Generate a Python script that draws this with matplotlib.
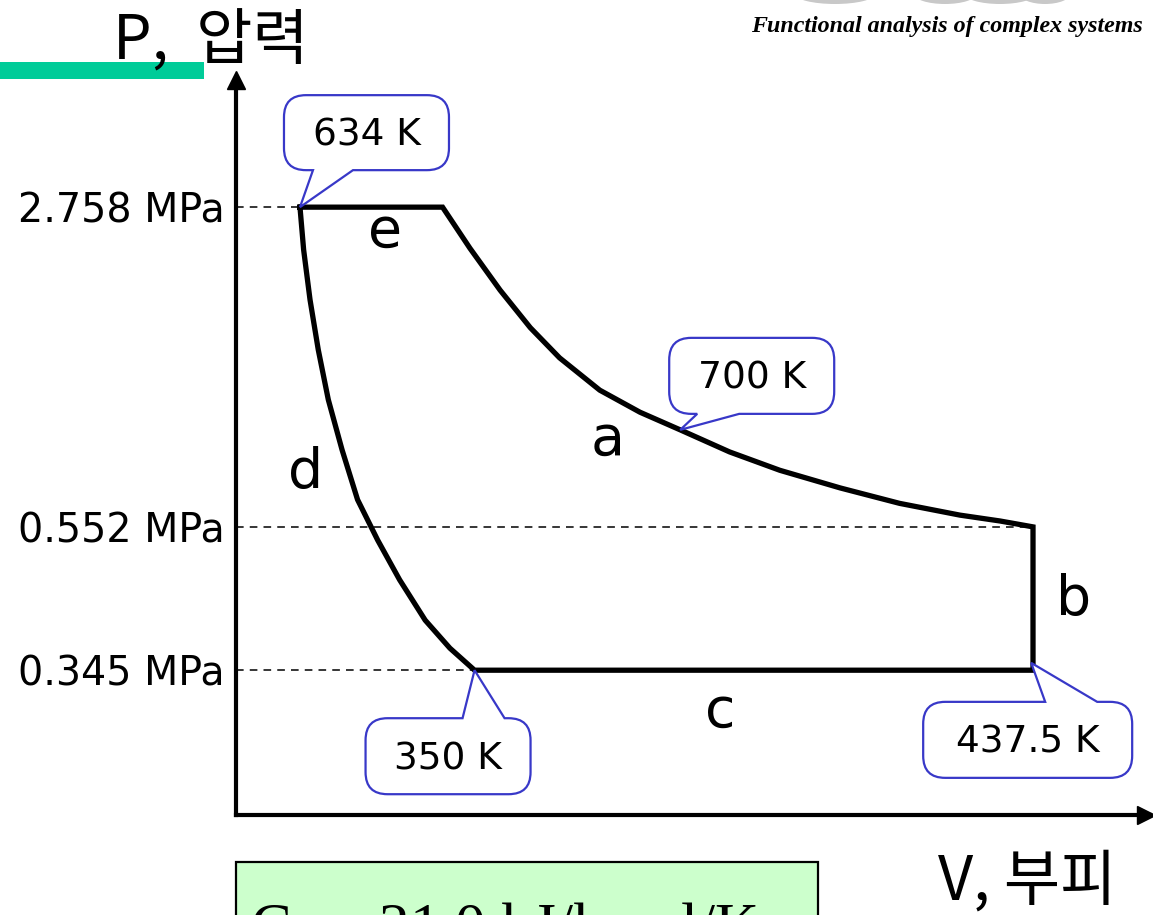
import matplotlib
matplotlib.use('Agg')
import matplotlib.pyplot as plt
from matplotlib.path import Path
from matplotlib.patches import PathPatch, Rectangle, Ellipse
from matplotlib.transforms import IdentityTransform

plt.rcParams['mathtext.fontset'] = 'stix'

W, H = 1153, 915

# ---------------- data (schematic diagram units, axes 0..10) ----------------
# segment e : isobaric at 2.758 MPa
V_e = [0.70, 2.26]
P_e = [8.27, 8.27]
# segment a : expansion curve
V_a = [2.26, 2.56, 2.89, 3.22, 3.54, 3.98, 4.42, 4.86, 5.40, 5.95, 6.61, 7.26, 7.92, 8.36, 8.72]
P_a = [8.27, 7.71, 7.14, 6.63, 6.22, 5.78, 5.48, 5.24, 4.94, 4.69, 4.45, 4.24, 4.08, 4.00, 3.92]
# segment b : isochoric drop
V_b = [8.72, 8.72]
P_b = [3.92, 1.97]
# segment c : isobaric at 0.345 MPa
V_c = [8.72, 2.61]
P_c = [1.97, 1.97]
# segment d : compression curve (from 350 K point up to 634 K point)
V_d = [2.61, 2.34, 2.07, 1.79, 1.55, 1.33, 1.16, 1.01, 0.90, 0.81, 0.74, 0.70]
P_d = [1.97, 2.27, 2.65, 3.20, 3.74, 4.29, 4.97, 5.65, 6.33, 7.01, 7.69, 8.27]

p_levels = [8.27, 3.92, 1.97]
p_labels = ['2.758 MPa', '0.552 MPa', '0.345 MPa']
p_dash_end = [0.70, 8.72, 2.61]

seg_names = ['e', 'a', 'b', 'c', 'd']
seg_label_x = [1.63, 4.07, 9.16, 5.30, 0.76]
seg_label_y = [7.93, 5.10, 2.93, 1.40, 4.65]

temp_labels = ['634 K', '700 K', '350 K', '437.5 K']
temp_tip_x = [0.70, 4.86, 2.61, 8.70]
temp_tip_y = [8.27, 5.24, 1.97, 2.07]

# ---------------- figure ----------------
fig = plt.figure(figsize=(W / 100, H / 100), dpi=100)
ax = fig.add_axes([236 / W, (H - 815) / H, (1150 - 236) / W, (815 - 80) / H])
ax.set_xlim(0, 10)
ax.set_ylim(0, 10)
for s in ['top', 'right']:
    ax.spines[s].set_visible(False)
for s in ['left', 'bottom']:
    ax.spines[s].set_linewidth(3)
    ax.spines[s].set_color('black')
ax.set_xticks([])
ax.set_yticks(p_levels)
ax.set_yticklabels(p_labels, fontsize=28.5, family='DejaVu Sans')
ax.tick_params(axis='y', length=0, pad=8)
ax.patch.set_alpha(0)

# axis arrows
ax.plot([0], [1], marker='^', ms=13, color='black', transform=ax.transAxes, clip_on=False)
ax.plot([0.996], [0], marker='>', ms=13, color='black', transform=ax.transAxes, clip_on=False)

# dashed guides
for y, xe in zip(p_levels, p_dash_end):
    ax.plot([0, xe], [y, y], color='black', lw=1.1, ls=(0, (5, 4)), zorder=2)

# cycle
V_cycle = V_e + V_a[1:] + V_b[1:] + V_c[1:] + V_d[1:]
P_cycle = P_e + P_a[1:] + P_b[1:] + P_c[1:] + P_d[1:]
ax.plot(V_cycle, P_cycle, color='black', lw=3.8, solid_joinstyle='miter', zorder=3)

for n, x, y in zip(seg_names, seg_label_x, seg_label_y):
    ax.text(x, y, n, fontsize=40, family='DejaVu Sans', ha='center', va='center')

# ---------------- callouts ----------------
# box geometry relative to tip in pixels (image coords, y down): left, top, width, height
box_geo = [(-16, -112, 165, 75), (-11, -92, 165, 76), (-109, 48, 165, 76), (-108, 39, 209, 76)]
wedge_geo = [(13, 53), (17, 59), (-12, 30), (14, 66)]
wedge_side = ['bottom', 'bottom', 'top', 'top']


def callout(tip, box, wedge, side, text):
    tx, ty = ax.transData.transform(tip)
    ty = H - ty
    L = tx + box[0]
    T = ty + box[1]
    R = L + box[2]
    B = T + box[3]
    b1, b2 = tx + wedge[0], tx + wedge[1]
    r = 22
    v, c = [], []

    def add(p, code):
        v.append((p[0], H - p[1]))
        c.append(code)

    add((L + r, T), Path.MOVETO)
    if side == 'top':
        add((b1, T), Path.LINETO)
        add((tx, ty), Path.LINETO)
        add((b2, T), Path.LINETO)
    add((R - r, T), Path.LINETO)
    add((R, T), Path.CURVE3)
    add((R, T + r), Path.CURVE3)
    add((R, B - r), Path.LINETO)
    add((R, B), Path.CURVE3)
    add((R - r, B), Path.CURVE3)
    if side == 'bottom':
        add((b2, B), Path.LINETO)
        add((tx, ty), Path.LINETO)
        add((b1, B), Path.LINETO)
    add((L + r, B), Path.LINETO)
    add((L, B), Path.CURVE3)
    add((L, B - r), Path.CURVE3)
    add((L, T + r), Path.LINETO)
    add((L, T), Path.CURVE3)
    add((L + r, T), Path.CURVE3)
    add((L + r, T), Path.CLOSEPOLY)
    patch = PathPatch(Path(v, c), transform=IdentityTransform(), fc='white',
                      ec='#3838C8', lw=1.6, zorder=5)
    fig.add_artist(patch)
    fig.text((L + R) / 2 / W, 1 - ((T + B) / 2 + 3) / H, text, fontsize=27,
             family='DejaVu Sans', ha='center', va='center', zorder=6)


for lab, x, y, bg, wg, sd in zip(temp_labels, temp_tip_x, temp_tip_y, box_geo, wedge_geo, wedge_side):
    callout((x, y), bg, wg, sd, lab)

# ---------------- decorations ----------------
fig.text(113 / W, 1 - 60 / H, 'P,  압력', fontsize=44,
         family=['Noto Sans CJK KR', 'DejaVu Sans'], ha='left', va='baseline')
fig.text(938 / W, 1 - 900 / H, 'V, 부피', fontsize=44,
         family=['Noto Sans CJK KR', 'DejaVu Sans'], ha='left', va='baseline')

fig.add_artist(Rectangle((0, 1 - 79 / H), 204 / W, 17 / H, transform=fig.transFigure,
                         fc='#00CC99', ec='none'))

fig.text(1143 / W, 1 - 32 / H, 'Functional analysis of complex systems', fontsize=17.3,
         family='Liberation Serif', style='italic', weight='bold', ha='right', va='baseline')

for cx, w in [(835, 80), (945, 62), (1000, 70), (1045, 50)]:
    fig.add_artist(Ellipse((cx / W, 1 + 6 / H), w / W, 20 / H, transform=fig.transFigure,
                           fc='#C8C8C8', ec='none'))

fig.add_artist(Rectangle((236 / W, -0.05), (818 - 236) / W, 0.05 + (915 - 862) / H,
                         transform=fig.transFigure, fc='#CCFFCC', ec='black', lw=1.6))
fig.text(250 / W, 1 - 945 / H, 'C$_v$ = 21.0 kJ/kmol/K', fontsize=44,
         family='Liberation Serif', ha='left', va='baseline')

fig.savefig('out.png', dpi=100)
